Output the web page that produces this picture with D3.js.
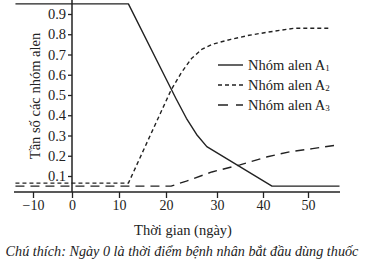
<!DOCTYPE html>
<html><head><meta charset="utf-8">
<script src="https://cdn.jsdelivr.net/npm/d3@7"></script>
<style>body{margin:0;background:#fff}svg{display:block}</style>
</head><body>
<svg id="c" width="366" height="263"></svg>
<script>
const xTicks = [-10, 0, 10, 20, 30, 40, 50];
const yTicks = [0.1, 0.2, 0.3, 0.4, 0.5, 0.6, 0.7, 0.8, 0.9];
const seriesNames = ["Nhóm alen A", "Nhóm alen A", "Nhóm alen A"];
const seriesSubs = ["1", "2", "3"];
const a1Days = [-14.5, 12, 20, 22, 24, 26, 28, 42, 57];
const a1Vals = [0.95, 0.95, 0.58, 0.48, 0.385, 0.305, 0.245, 0.05, 0.05];
const a2Days = [-14.5, 12, 21, 23, 25, 27, 29, 33, 37, 41, 47, 55];
const a2Vals = [0.065, 0.065, 0.525, 0.61, 0.68, 0.725, 0.75, 0.775, 0.795, 0.81, 0.83, 0.83];
const a3Days = [-14.5, 21, 24, 29, 35, 41, 46, 51, 57];
const a3Vals = [0.05, 0.05, 0.075, 0.12, 0.155, 0.195, 0.22, 0.235, 0.255];
const xTitle = "Thời gian (ngày)";
const yTitle = "Tần số các nhóm alen";
const caption = "Chú thích: Ngày 0 là thời điểm bệnh nhân bắt đầu dùng thuốc";

const FONT = "'Liberation Serif', 'Times New Roman', 'DejaVu Serif', serif";
const svg = d3.select("#c");
const x = d3.scaleLinear().domain(xTicks).range([33, 72, 119, 166, 217, 263, 308]);
const y = d3.scaleLinear().domain([0.1, 0.9]).range([176, 14]);
const axisY = 192;
const ink = "#222";

svg.append("line").attr("x1", 14).attr("x2", 340).attr("y1", axisY).attr("y2", axisY).attr("stroke", ink).attr("stroke-width", 1.5);
svg.append("line").attr("x1", x(0)).attr("x2", x(0)).attr("y1", 0).attr("y2", axisY).attr("stroke", ink).attr("stroke-width", 1.5);

const gx = svg.append("g").attr("transform", `translate(0,${axisY})`)
  .call(d3.axisBottom(x).tickValues(xTicks).tickSize(6).tickPadding(2).tickFormat(d3.format("d")));
gx.attr("font-family", FONT).attr("font-size", 14);
gx.select(".domain").remove();
gx.selectAll("line").attr("stroke", ink).attr("stroke-width", 1.3);
gx.selectAll("text").attr("fill", ink);

const gy = svg.append("g").attr("transform", `translate(${x(0)},0)`)
  .call(d3.axisLeft(y).tickValues(yTicks).tickSize(4).tickPadding(2).tickFormat(d3.format(".1f")));
gy.attr("font-family", FONT).attr("font-size", 14.5);
gy.select(".domain").remove();
gy.selectAll("line").attr("stroke", ink).attr("stroke-width", 1.3);
gy.selectAll("text").attr("fill", ink);

const line = d3.line().x(d => x(d[0])).y(d => y(d[1]));
const series = [
  {days: a1Days, vals: a1Vals, dash: null},
  {days: a2Days, vals: a2Vals, dash: "4,3"},
  {days: a3Days, vals: a3Vals, dash: "9,6"}
];
series.forEach(s => {
  svg.append("path").datum(s.days.map((d, i) => [d, s.vals[i]]))
    .attr("d", line).attr("fill", "none").attr("stroke", ink).attr("stroke-width", 1.4)
    .attr("stroke-linejoin", "round").attr("stroke-dasharray", s.dash);
});

const legY = [65, 85, 105];
const legDash = [null, "4,3", "10,8,7"];
const txt = svg.append("g").attr("font-family", FONT).attr("fill", ink);
seriesNames.forEach((n, i) => {
  svg.append("line").attr("x1", 218).attr("x2", 243).attr("y1", legY[i]).attr("y2", legY[i])
    .attr("stroke", ink).attr("stroke-width", 1.4).attr("stroke-dasharray", legDash[i]);
  const t = txt.append("text").attr("x", 248).attr("y", legY[i] + 5).attr("font-size", 14.5);
  t.append("tspan").text(n);
  t.append("tspan").attr("font-size", 9).attr("dy", 1).text(seriesSubs[i]);
});

txt.append("text").attr("x", 183).attr("y", 235).attr("text-anchor", "middle").attr("font-size", 14.5).text(xTitle);
txt.append("text").attr("transform", "translate(40,96) rotate(-90)").attr("text-anchor", "middle").attr("font-size", 14.5).text(yTitle);
txt.append("text").attr("x", 182).attr("y", 256).attr("text-anchor", "middle").attr("font-size", 14.2).attr("font-style", "italic").text(caption);
</script>
</body></html>
